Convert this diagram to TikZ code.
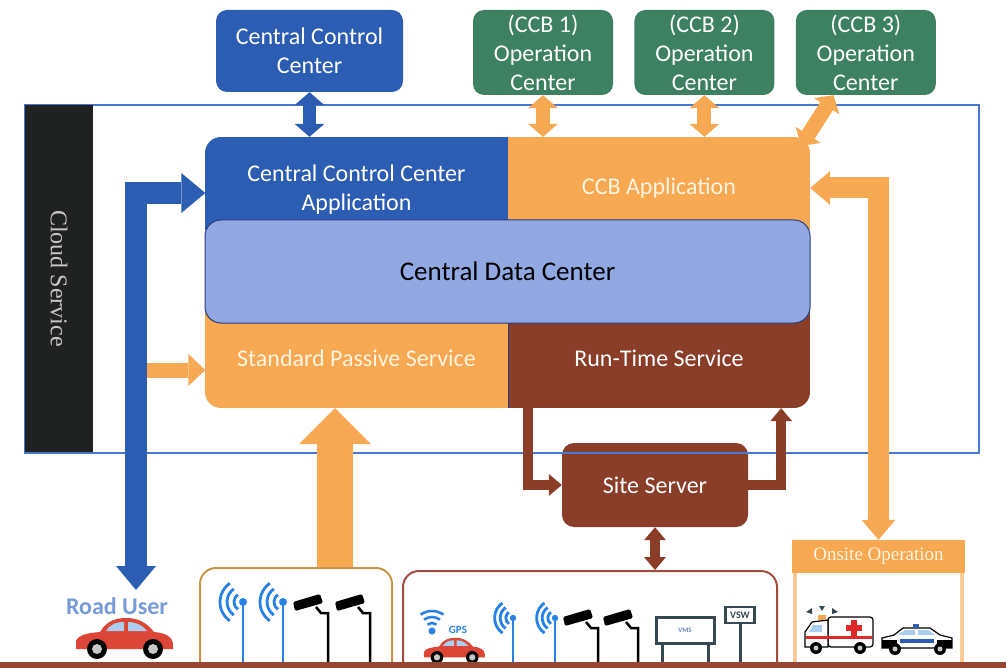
\documentclass[tikz,border=0pt]{standalone}
\usepackage{fontspec}
\setmainfont{Carlito}
\newfontfamily\capserif{Liberation Serif}
\usetikzlibrary{arrows.meta,positioning}

\definecolor{ccblue}{RGB}{44,93,178}
\definecolor{cborange}{RGB}{246,168,82}
\definecolor{cdcblue}{RGB}{146,168,226}
\definecolor{cdcline}{RGB}{40,60,130}
\definecolor{rtbrown}{RGB}{138,62,42}
\definecolor{ccbgreen}{RGB}{62,128,98}
\definecolor{cloudblack}{RGB}{32,34,34}
\definecolor{cloudtext}{RGB}{200,200,200}
\definecolor{frameblue}{RGB}{70,120,210}
\definecolor{groundbrown}{RGB}{150,70,50}
\definecolor{devgold}{RGB}{200,150,70}
\definecolor{devbrown}{RGB}{165,75,60}
\definecolor{creamtext}{RGB}{255,244,222}
\definecolor{rublue}{RGB}{120,155,215}
\definecolor{antblue}{RGB}{40,130,230}
\definecolor{postorange}{RGB}{250,205,150}
\definecolor{carred}{RGB}{220,70,55}
\definecolor{winblue}{RGB}{170,205,240}
\definecolor{hubgray}{RGB}{200,200,200}
\definecolor{signgray}{RGB}{55,72,80}
\definecolor{crossred}{RGB}{225,40,40}

\tikzset{
  % heads of the block arrows
  HeadXL/.tip={Triangle[width=72pt,length=36pt,line width=0pt]},
  HeadL/.tip={Triangle[width=40pt,length=24pt,line width=0pt]},
  HeadM/.tip={Triangle[width=34pt,length=20pt,line width=0pt]},
  HeadS/.tip={Triangle[width=30pt,length=13pt,line width=0pt]},
  HeadXS/.tip={Triangle[width=22pt,length=13pt,line width=0pt]},
  box/.style={inner sep=0pt, align=center, text=white, font=\fontsize{24}{29}\selectfont},
  centerbox/.style={box, rounded corners=11pt, fill=ccblue},
  opbox/.style={box, rounded corners=11pt, fill=ccbgreen, minimum width=140pt, minimum height=85pt},
  part/.style={box, minimum width=302pt, minimum height=100pt},
  devbox/.style={draw, line width=2pt, rounded corners=16pt, minimum height=125pt, anchor=north},
  blockarrow/.style={line join=miter},
  pics/antenna/.style={code={
    \draw[antblue, line width=2.5pt] (0,0) -- (0,-#1);
    \fill[antblue] (0,-#1) circle (4);
    \foreach \r in {9,16,23}
      \draw[antblue, line width=2.8pt] (0,-#1) ++(125:\r) arc (125:235:\r);
  }},
  pics/camera/.style={code={
    \draw[black, line width=2.5pt] (0,0) -- (0,-#1) -- (-7,-#1) -- (-12,-#1-6);
    \fill[black, rounded corners=1.5pt] (-33,-#1-2) -- (-35,-#1-11) -- (-8,-#1-19) -- (-5,-#1-10) -- cycle;
  }},
  pics/car/.style={code={
    \fill[carred] (-48,-9) -- (-48,-17) .. controls (-46,-23) and (-36,-25) .. (-24,-26)
      .. controls (-18,-36) and (-10,-40) .. (2,-40) .. controls (14,-40) and (22,-36) .. (30,-26)
      .. controls (42,-25) and (49,-21) .. (49,-13) -- (49,-9) -- cycle;
    \fill[winblue] (-18,-27) .. controls (-13,-34) and (-8,-36) .. (0,-36) -- (0,-27) -- cycle;
    \fill[winblue] (4,-27) -- (4,-36) .. controls (12,-36) and (18,-33) .. (23,-27) -- cycle;
    \foreach \wx in {-27,29} {
      \fill[black] (\wx,-9) circle (10);
      \fill[hubgray] (\wx,-9) circle (5);
    }
  }},
}

\begin{document}
\begin{tikzpicture}[x=1pt, y=-1pt]
  \useasboundingbox (0,0) rectangle (1006,668);

  % operation centres on top
  \node[centerbox, minimum width=187pt, minimum height=82pt] (ccc) at (309.5,51) {Central Control\\Center};
  \node[opbox] (ccb1) at (543,52.5) {(CCB 1)\\Operation\\Center};
  \node[opbox, right=21pt of ccb1] (ccb2) {(CCB 2)\\Operation\\Center};
  \node[opbox, right=21pt of ccb2] (ccb3) {(CCB 3)\\Operation\\Center};

  % main block
  \begin{scope}
    \clip[rounded corners=16pt] (205,137) rectangle (810,408);
    \fill[ccblue] (205,137) rectangle (508,230);
    \fill[cborange] (508,137) rectangle (810,230);
    \fill[cborange] (205,310) rectangle (508,408);
    \fill[rtbrown] (508,310) rectangle (810,408);
  \end{scope}
  \draw[cdcline, line width=0.8pt] (508,320) -- (508,408);
  \node[part, minimum height=106pt] (ccapp) at (356.5,190) {Central Control Center\\Application};
  \node[part, minimum height=102pt, text=creamtext] (cbapp) at (659,188) {CCB Application};
  \node[part, text=creamtext] (sps) at (356.5,358) {Standard Passive Service};
  \node[part] (rts) at (659,358) {Run-Time Service};
  \node[box, text=black, font=\fontsize{27}{30}\selectfont, fill=cdcblue, draw=cdcline, line width=1pt,
    rounded corners=16pt, minimum width=605pt, minimum height=103pt] (cdc) at (507.5,271.5) {Central Data Center};

  \node[box, rounded corners=12pt, fill=rtbrown, minimum width=186pt, minimum height=84pt] (site) at (655,485) {Site Server};

  % cloud frame
  \draw[frameblue, line width=1.2pt] (25,105) rectangle (979,453);
  \node[fill=cloudblack, text=cloudtext, font=\capserif\fontsize{24}{28}\selectfont,
    minimum width=347pt, minimum height=68pt, rotate=-90] (cloud) at (59,278.5) {Cloud Service};

  % devices on the road side
  \node[devbox, draw=devgold, minimum width=192pt] (devA) at (296,567) {};
  \node[devbox, draw=devbrown, minimum width=374pt] (devB) at (590,570) {};
  \node[fill=cborange, text=creamtext, font=\capserif\fontsize{19}{22}\selectfont,
    minimum width=173pt, minimum height=33pt, inner sep=0pt] (onsite) at (878.5,556.5) {Onsite Operation};
  \draw[postorange, line width=4pt] ([xshift=3pt]onsite.south west) -- ++(0,92);
  \draw[postorange, line width=4pt] ([xshift=-3pt]onsite.south east) -- ++(0,92);
  \node[font=\bfseries\fontsize{24}{26}\selectfont, text=rublue] (roaduser) at (117,606) {Road User};

  % arrows
  \draw[blockarrow, ccblue, line width=13pt, HeadS-HeadS] (ccc.south) -- (ccc.south |- ccapp.north);
  \draw[blockarrow, cborange, line width=14pt, HeadS-HeadS] (ccb1.south) -- (ccb1.south |- cbapp.north);
  \draw[blockarrow, cborange, line width=14pt, HeadS-HeadS] (ccb2.south) -- (ccb2.south |- cbapp.north);
  \draw[blockarrow, cborange, line width=15pt, HeadS-HeadS] ([xshift=38pt]ccb3.south west) -- ([shift={(-9,9)}]cbapp.north east);
  \coordinate (ru) at (136,590);
  \draw[blockarrow, ccblue, line width=22pt, HeadL-HeadL] ([yshift=-3pt]ccapp.west) -| (ru);
  \coordinate (spsin) at (147,370);
  \draw[blockarrow, cborange, line width=15pt, -{Triangle[width=32pt,length=17pt,line width=0pt]}] (spsin) -- (spsin -| sps.west);
  \draw[blockarrow, cborange, line width=36pt, -HeadXL] ([xshift=39pt]devA.north) coordinate (up) -- (up |- sps.south);
  \draw[blockarrow, rtbrown, line width=10pt, -HeadXS] ([xshift=20pt]rts.south west) |- (site.west);
  \draw[blockarrow, rtbrown, line width=10pt, -HeadXS] (site.east) -| ([xshift=-29pt]rts.south east);
  \draw[blockarrow, rtbrown, line width=10pt, HeadXS-HeadXS] (site.south) -- (site.south |- devB.north);
  \draw[blockarrow, cborange, line width=21pt, HeadM-HeadM] (cbapp.east) -| (onsite.north);

  % field equipment
  \pic at (243,662) {antenna=60};
  \pic at (283,662) {antenna=60};
  \pic at (328,662) {camera=49};
  \pic at (370,662) {camera=49};
  \pic at (124,658) {car};

  \pic[scale=0.63] at (454,663) {car};
  \fill[antblue] (432,631) circle (3.5);
  \foreach \r in {8,14,20}
    \draw[antblue, line width=2.5pt] (432,631) ++(-125:\r) arc (-125:-55:\r);
  \node[text=antblue, font=\bfseries\fontsize{11}{12}\selectfont, inner sep=0pt] (gps) at (458,630) {GPS};
  \pic[scale=0.8] at (513,662) {antenna=55};
  \pic[scale=0.8] at (555,662) {antenna=55};
  \pic at (598,662) {camera=34};
  \pic at (638,662) {camera=34};
  \draw[signgray, line width=3pt] (662,643) -- (662,662) (708,643) -- (708,662) (740,623) -- (740,662);
  \node[draw=signgray, line width=3pt, fill=white, minimum width=58pt, minimum height=26pt, inner sep=0pt,
    text=ccblue, font=\fontsize{7}{8}\selectfont] (vms) at (685,630) {VMS};
  \node[draw=signgray, line width=2.5pt, fill=white, minimum width=29pt, minimum height=16pt, inner sep=0pt,
    text=signgray, font=\bfseries\fontsize{10}{11}\selectfont] (vsw) at (740,615) {VSW};

  % ambulance
  \draw[black, line width=1.2pt, fill=white, rounded corners=3pt] (828,617) rectangle (873,647);
  \draw[black, line width=1.2pt, fill=white] (805,647) -- (805,632) -- (812,622) -- (828,620) -- (828,647) -- cycle;
  \fill[winblue] (813,625) -- (809,632) -- (822,632) -- (822,625) -- cycle;
  \fill[crossred] (806,636) rectangle (872,639);
  \fill[crossred] (851,620) rectangle (857,636);
  \fill[crossred] (846,625) rectangle (862,631);
  \fill[cborange] (818,615) rectangle (826,620);
  \fill[signgray] (806,612) -- (812,608) -- (812,614) -- cycle;
  \fill[signgray] (819,606) -- (825,606) -- (822,611) -- cycle;
  \fill[signgray] (832,608) -- (838,612) -- (832,614) -- cycle;
  \foreach \wx in {816,860} {
    \fill[black] (\wx,648) circle (6);
    \fill[hubgray] (\wx,648) circle (2.5);
  }

  % police car
  \draw[black, line width=1.2pt, fill=white] (882,648) -- (882,638) -- (894,635) -- (903,628) -- (930,628) -- (940,635) -- (952,638) -- (952,648) -- cycle;
  \fill[black] (882,640) rectangle (897,648);
  \fill[black] (937,640) rectangle (952,648);
  \fill[winblue] (905,630) -- (898,635) -- (915,635) -- (915,630) -- cycle;
  \fill[winblue] (918,630) -- (918,635) -- (935,635) -- (928,630) -- cycle;
  \fill[ccblue] (900,639) rectangle (934,643);
  \fill[ccblue] (913,624) rectangle (919,628);
  \foreach \wx in {895,940} {
    \fill[black] (\wx,649) circle (6);
    \fill[hubgray] (\wx,649) circle (2.5);
  }

  % road surface
  \fill[groundbrown] (0,662) rectangle (1006,672);
\end{tikzpicture}
\end{document}
